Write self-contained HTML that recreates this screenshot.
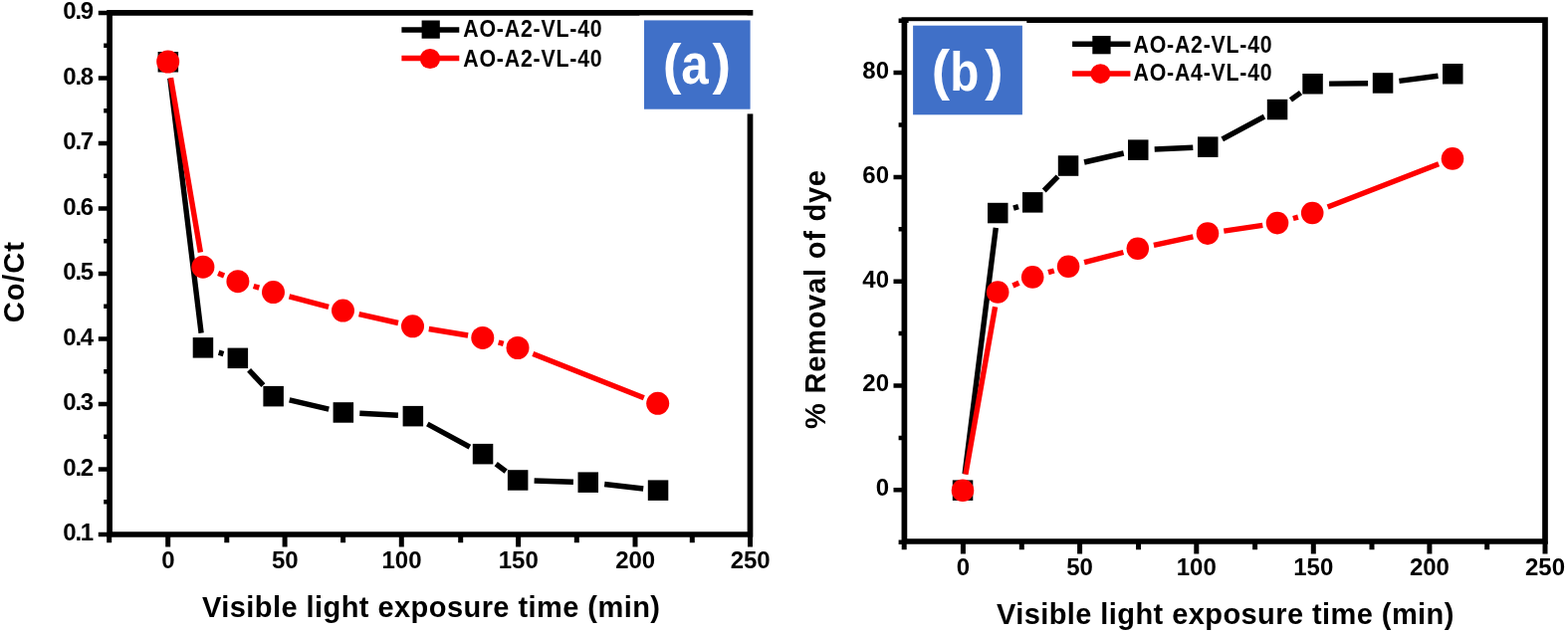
<!DOCTYPE html>
<html><head><meta charset="utf-8"><title>Chart</title>
<style>html,body{margin:0;padding:0;background:#fff;width:1575px;height:636px;overflow:hidden}svg{display:block}</style>
</head><body>
<svg width="1575" height="636" viewBox="0 0 1575 636">
<rect width="1575" height="636" fill="#fff"/>
<path d="M110.1 537.0V12.9H753.5V537.0Z" stroke="#000" stroke-width="5.7" fill="none" stroke-linejoin="miter"/>
<path d="M98.8 537.0H110.1M98.8 471.5H110.1M98.8 406.0H110.1M98.8 340.4H110.1M98.8 274.9H110.1M98.8 209.4H110.1M98.8 143.9H110.1M98.8 78.4H110.1M98.8 12.9H110.1M104.2 504.2H110.1M104.2 438.7H110.1M104.2 373.2H110.1M104.2 307.7H110.1M104.2 242.2H110.1M104.2 176.7H110.1M104.2 111.2H110.1M104.2 45.7H110.1" stroke="#000" stroke-width="4.5"/>
<path d="M168.7 537.0V549.5M286.1 537.0V549.5M403.3 537.0V549.5M520.6 537.0V549.5M638.0 537.0V549.5M753.5 537.0V549.5M109.7 537.0V545.2M227.8 537.0V545.2M344.6 537.0V545.2M462.7 537.0V545.2M579.3 537.0V545.2M695.3 537.0V545.2" stroke="#000" stroke-width="5.0"/>
<g font-family="'Liberation Sans', Arial, sans-serif" font-weight="bold" font-size="24" fill="#000"><text x="93.0" y="543.2" text-anchor="end" letter-spacing="-1.2">0.1</text><text x="93.0" y="477.7" text-anchor="end" letter-spacing="-1.2">0.2</text><text x="93.0" y="412.2" text-anchor="end" letter-spacing="-1.2">0.3</text><text x="93.0" y="346.6" text-anchor="end" letter-spacing="-1.2">0.4</text><text x="93.0" y="281.1" text-anchor="end" letter-spacing="-1.2">0.5</text><text x="93.0" y="215.6" text-anchor="end" letter-spacing="-1.2">0.6</text><text x="93.0" y="150.1" text-anchor="end" letter-spacing="-1.2">0.7</text><text x="93.0" y="84.6" text-anchor="end" letter-spacing="-1.2">0.8</text><text x="93.0" y="19.1" text-anchor="end" letter-spacing="-1.2">0.9</text></g>
<g font-family="'Liberation Sans', Arial, sans-serif" font-weight="bold" font-size="24" fill="#000"><text x="168.9" y="571.4" text-anchor="middle">0</text><text x="286.3" y="571.4" text-anchor="middle">50</text><text x="403.5" y="571.4" text-anchor="middle">100</text><text x="520.8" y="571.4" text-anchor="middle">150</text><text x="638.2" y="571.4" text-anchor="middle">200</text><text x="753.7" y="571.4" text-anchor="middle">250</text></g>
<text font-family="'Liberation Sans', Arial, sans-serif" font-weight="bold" font-size="29" x="203.0" y="620" textLength="460" lengthAdjust="spacing">Visible light exposure time (min)</text>
<text font-family="'Liberation Sans', Arial, sans-serif" font-weight="bold" font-size="29" transform="translate(23.6 324.2) rotate(-90)" textLength="81" lengthAdjust="spacing">Co/Ct</text>
<path d="M170.8 78.6L202.1 334.6M219.7 354.2L224.5 355.6M250.1 371.9L264.4 387.2M290.7 401.9L330.3 411.1M361.3 415.3L399.9 417.3M429.3 426.0L471.9 449.1M498.2 466.1L508.2 473.6M536.6 483.0L575.9 484.2M607.2 486.5L646.2 491.0" stroke="#000" stroke-width="5.4" fill="none" stroke-linecap="butt"/>
<rect x="158.6" y="52.0" width="20.5" height="20.5" fill="#000"/><rect x="193.7" y="339.1" width="20.5" height="20.5" fill="#000"/><rect x="228.6" y="349.6" width="20.5" height="20.5" fill="#000"/><rect x="264.4" y="387.9" width="20.5" height="20.5" fill="#000"/><rect x="334.6" y="404.2" width="20.5" height="20.5" fill="#000"/><rect x="404.6" y="407.9" width="20.5" height="20.5" fill="#000"/><rect x="474.8" y="445.9" width="20.5" height="20.5" fill="#000"/><rect x="509.9" y="472.2" width="20.5" height="20.5" fill="#000"/><rect x="580.5" y="474.4" width="20.5" height="20.5" fill="#000"/><rect x="650.8" y="482.4" width="20.5" height="20.5" fill="#000"/>
<path d="M171.5 78.3L201.4 253.5M219.1 274.5L225.1 277.0M254.7 287.5L260.3 289.2M290.5 297.8L330.1 308.3M360.6 315.7L400.0 324.5M430.8 330.5L470.1 337.0M500.7 344.0L505.7 345.4M535.3 355.6L646.8 399.8" stroke="#fe0000" stroke-width="5.4" fill="none" stroke-linecap="butt"/>
<circle cx="168.7" cy="62.0" r="11.5" fill="#fe0000"/><circle cx="203.9" cy="268.2" r="11.5" fill="#fe0000"/><circle cx="238.9" cy="282.7" r="11.5" fill="#fe0000"/><circle cx="274.5" cy="293.6" r="11.5" fill="#fe0000"/><circle cx="344.5" cy="312.1" r="11.5" fill="#fe0000"/><circle cx="414.5" cy="327.8" r="11.5" fill="#fe0000"/><circle cx="484.8" cy="339.4" r="11.5" fill="#fe0000"/><circle cx="520.0" cy="349.5" r="11.5" fill="#fe0000"/><circle cx="660.7" cy="405.3" r="11.5" fill="#fe0000"/>
<path d="M403.4 30.0H461.3" stroke="#000" stroke-width="5.4"/>
<rect x="423.6" y="20.5" width="18.2" height="18.2" fill="#000"/>
<path d="M403.4 58.5H461.3" stroke="#fe0000" stroke-width="5.4"/>
<circle cx="432.0" cy="59.0" r="10.1" fill="#fe0000"/>
<g font-family="'Liberation Sans', Arial, sans-serif" font-weight="bold" font-size="23.7" fill="#000"><text transform="translate(465.3 36.9) scale(0.90 1)" textLength="154.9" lengthAdjust="spacing">AO-A2-VL-40</text><text transform="translate(465.3 66.6) scale(0.90 1)" textLength="154.9" lengthAdjust="spacing">AO-A2-VL-40</text></g>
<rect x="642.3" y="15.6" width="116" height="98.8" fill="#fff"/>
<rect x="647" y="20.4" width="106.6" height="89.3" fill="#4070c8"/>
<g font-family="'Liberation Sans', Arial, sans-serif" font-weight="bold" font-size="56" fill="#fff"><text x="665.7" y="83.0">(</text><text transform="translate(698.0 84.3) scale(0.88 1.02)" text-anchor="middle">a</text><text x="715.4" y="83.0">)</text></g>
<path d="M908.4 544.0V20.2H1552.0V544.0Z" stroke="#000" stroke-width="5.7" fill="none"/>
<path d="M897.5 492.3H908.4M897.5 387.5H908.4M897.5 282.7H908.4M897.5 177.9H908.4M897.5 73.1H908.4M902.6 544.7H908.4M902.6 439.9H908.4M902.6 335.1H908.4M902.6 230.3H908.4M902.6 125.5H908.4M902.6 20.7H908.4" stroke="#000" stroke-width="4.5"/>
<path d="M967.4 544.0V556.6M1084.6 544.0V556.6M1201.8 544.0V556.6M1319.3 544.0V556.6M1435.9 544.0V556.6M1552.0 544.0V556.6M908.2 544.0V552.2M1026.3 544.0V552.2M1143.5 544.0V552.2M1260.6 544.0V552.2M1378.0 544.0V552.2M1493.7 544.0V552.2" stroke="#000" stroke-width="5.0"/>
<g font-family="'Liberation Sans', Arial, sans-serif" font-weight="bold" font-size="24" fill="#000"><text x="893" y="498.1" text-anchor="end">0</text><text x="893" y="393.3" text-anchor="end">20</text><text x="893" y="288.5" text-anchor="end">40</text><text x="893" y="183.7" text-anchor="end">60</text><text x="893" y="78.9" text-anchor="end">80</text></g>
<g font-family="'Liberation Sans', Arial, sans-serif" font-weight="bold" font-size="24" fill="#000"><text x="967.4" y="578.4" text-anchor="middle">0</text><text x="1084.6" y="578.4" text-anchor="middle">50</text><text x="1201.8" y="578.4" text-anchor="middle">100</text><text x="1319.3" y="578.4" text-anchor="middle">150</text><text x="1435.9" y="578.4" text-anchor="middle">200</text><text x="1552.0" y="578.4" text-anchor="middle">250</text></g>
<text font-family="'Liberation Sans', Arial, sans-serif" font-weight="bold" font-size="29" x="1000.9" y="627" textLength="459.5" lengthAdjust="spacing">Visible light exposure time (min)</text>
<text font-family="'Liberation Sans', Arial, sans-serif" font-weight="bold" font-size="29" transform="translate(829.2 431) rotate(-90)" textLength="260" lengthAdjust="spacing">% Removal of dye</text>
<path d="M969.1 476.2L1000.3 228.8M1018.0 209.2L1023.0 207.7M1048.7 191.5L1062.6 177.3M1089.1 163.0L1128.7 154.0M1159.7 150.0L1198.3 148.3M1227.7 139.9L1270.0 117.2M1296.4 100.4L1306.5 93.1M1335.1 84.1L1374.1 83.7M1405.4 81.4L1444.5 76.2" stroke="#000" stroke-width="5.4" fill="none" stroke-linecap="butt"/>
<rect x="956.8" y="482.4" width="20.5" height="20.5" fill="#000"/><rect x="992.0" y="203.8" width="20.5" height="20.5" fill="#000"/><rect x="1027.0" y="193.1" width="20.5" height="20.5" fill="#000"/><rect x="1062.8" y="156.3" width="20.5" height="20.5" fill="#000"/><rect x="1133.0" y="140.4" width="20.5" height="20.5" fill="#000"/><rect x="1203.0" y="137.4" width="20.5" height="20.5" fill="#000"/><rect x="1272.8" y="99.8" width="20.5" height="20.5" fill="#000"/><rect x="1308.3" y="74.0" width="20.5" height="20.5" fill="#000"/><rect x="1378.8" y="73.2" width="20.5" height="20.5" fill="#000"/><rect x="1449.0" y="64.0" width="20.5" height="20.5" fill="#000"/>
<path d="M969.9 476.6L999.6 308.2M1017.4 287.0L1023.5 284.3M1053.0 273.7L1058.8 272.0M1089.1 263.6L1128.4 253.5M1158.9 246.3L1198.4 237.8M1229.3 232.2L1268.3 226.3M1298.9 219.5L1303.9 218.1M1333.6 208.0L1445.1 164.8" stroke="#fe0000" stroke-width="5.4" fill="none" stroke-linecap="butt"/>
<circle cx="967.0" cy="492.8" r="11.3" fill="#fe0000"/><circle cx="1002.2" cy="293.5" r="11.3" fill="#fe0000"/><circle cx="1037.2" cy="278.4" r="11.3" fill="#fe0000"/><circle cx="1073.1" cy="267.7" r="11.3" fill="#fe0000"/><circle cx="1142.8" cy="249.8" r="11.3" fill="#fe0000"/><circle cx="1213.0" cy="234.6" r="11.3" fill="#fe0000"/><circle cx="1283.0" cy="224.1" r="11.3" fill="#fe0000"/><circle cx="1318.2" cy="214.0" r="11.3" fill="#fe0000"/><circle cx="1459.0" cy="159.4" r="11.3" fill="#fe0000"/>
<path d="M1077.1 44.3H1135.4" stroke="#000" stroke-width="5.4"/>
<rect x="1097.3" y="36.0" width="18.3" height="18.3" fill="#000"/>
<path d="M1077.1 74.0H1135.4" stroke="#fe0000" stroke-width="5.4"/>
<circle cx="1105.4" cy="74.1" r="9.9" fill="#fe0000"/>
<g font-family="'Liberation Sans', Arial, sans-serif" font-weight="bold" font-size="23.7" fill="#000"><text transform="translate(1138.5 52.8) scale(0.90 1)" textLength="154.6" lengthAdjust="spacing">AO-A2-VL-40</text><text transform="translate(1138.5 81.1) scale(0.90 1)" textLength="154.6" lengthAdjust="spacing">AO-A4-VL-40</text></g>
<rect x="912.6" y="21.2" width="118.7" height="98.6" fill="#fff"/>
<rect x="917.1" y="25.7" width="109.8" height="89.6" fill="#4070c8"/>
<g font-family="'Liberation Sans', Arial, sans-serif" font-weight="bold" font-size="55" fill="#fff"><text x="935.7" y="88.8">(</text><text transform="translate(968.8 90.6) scale(0.867 1.02)" text-anchor="middle">b</text><text x="989.3" y="88.8">)</text></g>
</svg>
</body></html>
